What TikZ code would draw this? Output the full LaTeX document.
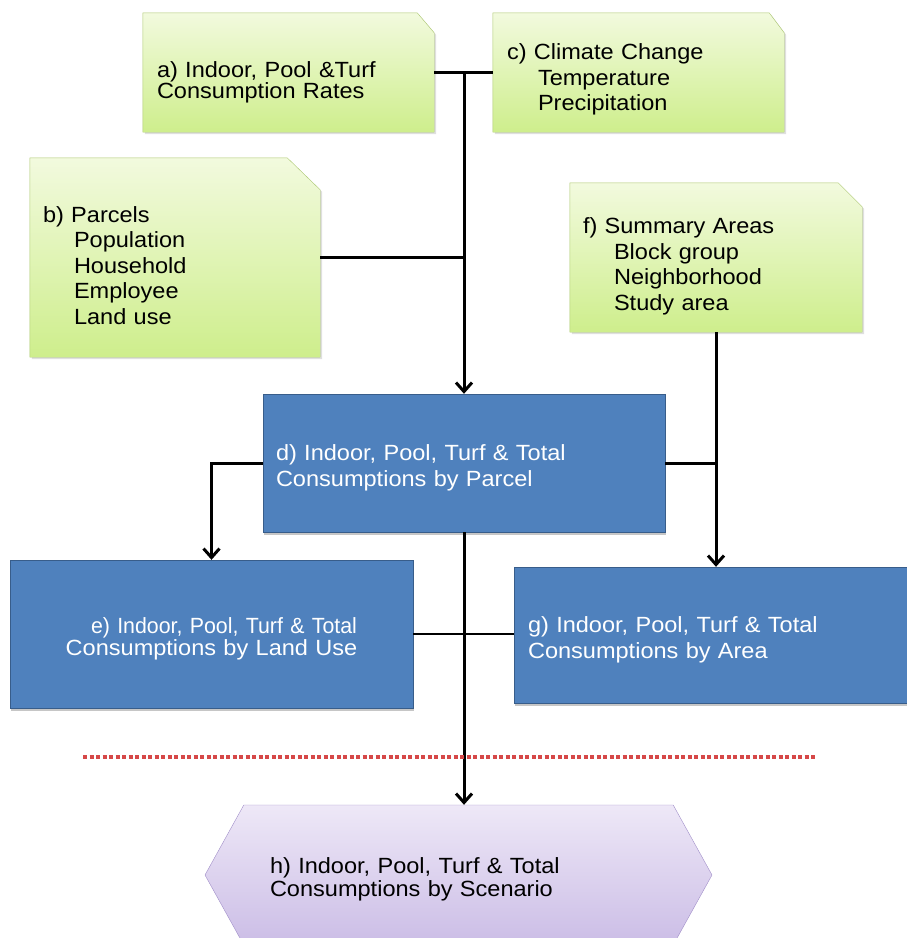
\documentclass[tikz,border=0pt]{standalone}
\usepackage{fontspec}
\setmainfont{Liberation Sans}[FakeStretch=1.07]
\newfontfamily\narrowsans{Liberation Sans}[FakeStretch=0.97]
\usetikzlibrary{shapes.symbols,arrows.meta,shadows,backgrounds}
\definecolor{notetop}{RGB}{242,250,222}
\definecolor{notebottom}{RGB}{206,238,140}
\definecolor{notedraw}{RGB}{172,200,112}
\definecolor{tablefill}{RGB}{79,129,189}
\definecolor{tabledraw}{RGB}{56,93,138}
\definecolor{scentop}{RGB}{238,232,247}
\definecolor{scenbottom}{RGB}{203,189,230}
\definecolor{scendraw}{RGB}{160,142,200}
\definecolor{cutline}{RGB}{214,72,72}
\newcommand{\subitemsp}{\hspace*{31pt}}

\begin{document}
\begin{tikzpicture}[x=1pt,y=-1pt]
	\tikzstyle{note} = [rectangle, align=left, inner sep=4pt, font=\fontsize{22}{25.5}\selectfont]
	\tikzstyle{notebox} = [draw=notedraw, top color=notetop, bottom color=notebottom, drop shadow={shadow xshift=2pt, shadow yshift=-2pt, opacity=0.25}]
	\tikzstyle{table} = [rectangle, draw=tabledraw, fill=tablefill, text=white, drop shadow={shadow xshift=1pt, shadow yshift=-3pt, opacity=0.45}, inner sep=4pt, text height=26pt, font=\fontsize{22}{25.5}\selectfont]
	\tikzstyle{scenario} = [signal, signal to=west and east, signal from=nowhere, signal pointer angle=122, draw=scendraw, top color=scentop, bottom color=scenbottom, align=left, inner sep=4pt, font=\fontsize{22}{23}\selectfont]
	\tikzstyle{line} = [draw, line width=3pt]
	\tikzstyle{connector} = [draw, line width=3pt, -{Straight Barb[length=9pt,width=16pt]}]
\useasboundingbox (0,0) rectangle (906,938);
\node [note, minimum width=291pt, minimum height=119pt, text width=263pt, text height=36pt, font=\fontsize{22}{21}\selectfont] at (288.5,72.5) (rates) {a) Indoor, Pool \&Turf\\Consumption Rates};
\node [note, minimum width=291pt, minimum height=119pt, text width=263pt, text height=30pt] at (638.5,72.5) (climate) {c) Climate Change\\\subitemsp Temperature\\\subitemsp Precipitation};
\node [note, minimum width=290pt, minimum height=199pt, text width=264pt, text height=32pt] at (175,257.5) (parcels) {b) Parcels\\\subitemsp Population\\\subitemsp Household\\\subitemsp Employee\\\subitemsp Land use};
\node [note, minimum width=292pt, minimum height=149pt, text width=266pt, text height=34pt] at (716,257.5) (areas) {f) Summary Areas\\\subitemsp Block group\\\subitemsp Neighborhood\\\subitemsp Study area};
\begin{scope}[on background layer]
\path [notebox] (rates.south west) -- (rates.north west) -- ([xshift=-17pt]rates.north east) -- ([yshift=-20pt]rates.north east) -- (rates.south east) -- cycle;
\path [notebox] (climate.south west) -- (climate.north west) -- ([xshift=-15pt]climate.north east) -- ([yshift=-20pt]climate.north east) -- (climate.south east) -- cycle;
\path [notebox] (parcels.south west) -- (parcels.north west) -- ([xshift=-33pt]parcels.north east) -- ([yshift=-32pt]parcels.north east) -- (parcels.south east) -- cycle;
\path [notebox] (areas.south west) -- (areas.north west) -- ([xshift=-24pt]areas.north east) -- ([yshift=-24pt]areas.north east) -- (areas.south east) -- cycle;
\end{scope}
\node [table, minimum width=402pt, minimum height=138pt, text width=376pt, align=left] at (464,463) (byparcel) {d) Indoor, Pool, Turf \& Total\\Consumptions by Parcel};
\node [table, minimum width=403pt, minimum height=148pt, text width=380pt, align=center, font=\fontsize{22}{22}\selectfont] at (211.5,634) (bylanduse) {\hspace*{25pt}{\narrowsans e) Indoor, Pool, Turf \& Total}\\Consumptions by Land Use};
\node [table, minimum width=398pt, minimum height=136pt, text width=370pt, align=left] at (713,635) (byarea) {g) Indoor, Pool, Turf \& Total\\Consumptions by Area};
\node [scenario, minimum width=507pt, minimum height=140pt, text width=377pt, text height=24pt] at (458.5,875) (byscenario) {h) Indoor, Pool, Turf \& Total\\Consumptions by Scenario};
\coordinate (merge) at (464,71);
\path [line] (rates) -- (climate);
\path [line] (parcels.east) -- (parcels.east -| merge);
\path [connector] (merge) -- (byparcel.north);
\path [connector] (areas.south) -- (areas.south |- byarea.north);
\path [line] (byparcel.east) -- (byparcel.east -| areas.south);
\path [connector] (byparcel.west) -| (bylanduse.north);
\path [line, line width=2.5pt] (bylanduse.east) -- (bylanduse.east -| byarea.west);
\path [connector] (byparcel.south) -- (byparcel.south |- byscenario.north);
% separator
\draw [cutline, line width=4pt, dash pattern=on 4pt off 2.5pt] (83,757) -- (815,757);
\end{tikzpicture}
\end{document}
